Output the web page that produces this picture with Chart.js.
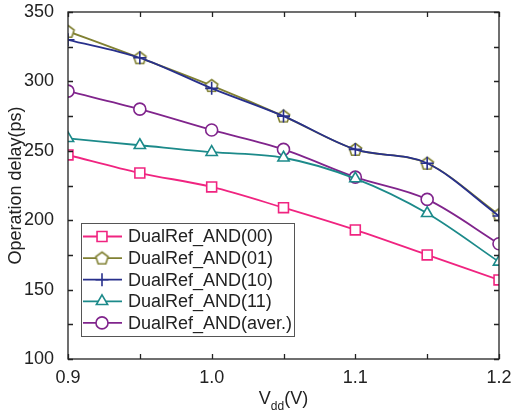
<!DOCTYPE html>
<html>
<head>
<meta charset="utf-8">
<script src="https://cdn.jsdelivr.net/npm/chart.js@4/dist/chart.umd.min.js"></script>
<style>
  html, body { margin: 0; padding: 0; background: #fff; }
  #wrap { width: 512px; height: 413px; position: relative; }
</style>
</head>
<body>
<div id="wrap"><canvas id="delayChart"></canvas></div>
<script>
// supply voltage (V)
const vdd = [0.9, 0.95, 1.0, 1.05, 1.1, 1.15, 1.2];

// operation delay (ps)
const and00  = [247, 234, 224, 209, 193, 175, 157];
const and01  = [336, 317, 297, 275, 251, 241, 204];
const and10  = [330, 317, 295, 275, 251, 241, 203];
const and11  = [259, 254, 249, 245, 230, 205, 170];
const andAvg = [293, 280, 265, 251, 231, 215, 183];

const seriesNames = ['DualRef_AND(00)', 'DualRef_AND(01)', 'DualRef_AND(10)', 'DualRef_AND(11)', 'DualRef_AND(aver.)'];

const COLORS = {
  pink:   'rgb(240,36,128)',
  olive:  'rgb(128,128,50)',
  blue:   'rgb(40,48,140)',
  teal:   'rgb(28,138,138)',
  purple: 'rgb(128,36,140)',
};

const FONT = "'Liberation Sans', Arial, sans-serif";

// pentagon marker (no built-in style for it)
function makePentagon(color, r) {
  const c = document.createElement('canvas');
  const s = Math.ceil(r * 2 + 4);
  c.width = s; c.height = s;
  const g = c.getContext('2d');
  g.strokeStyle = color;
  g.fillStyle = '#fff';
  g.lineWidth = 1.6;
  g.beginPath();
  for (let i = 0; i < 5; i++) {
    const a = -Math.PI / 2 + i * 2 * Math.PI / 5;
    const px = s / 2 + r * Math.cos(a), py = s / 2 + r * Math.sin(a) + 0.5;
    i ? g.lineTo(px, py) : g.moveTo(px, py);
  }
  g.closePath();
  g.fill();
  g.stroke();
  return c;
}
const pentagon = makePentagon(COLORS.olive, 6.5);

function toPoints(ys) {
  return vdd.map((x, i) => ({ x, y: ys[i] }));
}

function series(label, ys, color, style, radius) {
  return {
    label,
    data: toPoints(ys),
    borderColor: color,
    backgroundColor: '#fff',
    borderWidth: 1.8,
    pointStyle: style,
    pointRadius: radius,
    pointBorderWidth: 1.6,
    pointBorderColor: color,
    pointBackgroundColor: '#fff',
    cubicInterpolationMode: 'monotone',
    clip: 0,
  };
}

const datasets = [
  series(seriesNames[0], and00, COLORS.pink, 'rect', 7),
  series(seriesNames[1], and01, COLORS.olive, pentagon, 6),
  series(seriesNames[2], and10, COLORS.blue, 'cross', 6.5),
  series(seriesNames[3], and11, COLORS.teal, 'triangle', 6.5),
  series(seriesNames[4], andAvg, COLORS.purple, 'circle', 6),
];
// blue drawn over olive
datasets[1].order = 2;
datasets[2].order = 1;

const frameAndLegend = {
  id: 'frameAndLegend',
  afterDatasetsDraw(chart) {
    const { ctx, chartArea: a, scales: { x, y } } = chart;
    ctx.save();
    ctx.strokeStyle = '#222';
    ctx.lineWidth = 1.3;

    // inward ticks on all four sides
    ctx.beginPath();
    for (let v = 0.9; v <= 1.2001; v += 0.05) {
      const px = Math.round(x.getPixelForValue(v)) + 0.5;
      ctx.moveTo(px, a.bottom); ctx.lineTo(px, a.bottom - 5);
      ctx.moveTo(px, a.top); ctx.lineTo(px, a.top + 5);
    }
    for (let v = 100; v <= 350; v += 25) {
      const py = Math.round(y.getPixelForValue(v)) + 0.5;
      ctx.moveTo(a.left, py); ctx.lineTo(a.left + 5, py);
      ctx.moveTo(a.right, py); ctx.lineTo(a.right - 5, py);
    }
    ctx.stroke();
    ctx.strokeRect(a.left, a.top, a.right - a.left, a.bottom - a.top);

    // legend box
    const bx = 81, by = 223, bw = 213, bh = 113;
    ctx.fillStyle = '#fff';
    ctx.fillRect(bx, by, bw, bh);
    ctx.strokeStyle = '#555';
    ctx.lineWidth = 1;
    ctx.strokeRect(bx + 0.5, by + 0.5, bw, bh);

    chart.data.datasets.forEach((ds, i) => {
      const ly = 236.5 + i * 21.6;
      ctx.strokeStyle = ds.borderColor;
      ctx.lineWidth = 1.8;
      ctx.beginPath();
      ctx.moveTo(83, ly); ctx.lineTo(122, ly);
      ctx.stroke();
      ctx.lineWidth = ds.pointBorderWidth;
      ctx.fillStyle = '#fff';
      Chart.helpers.drawPoint(ctx, { pointStyle: ds.pointStyle, radius: ds.pointRadius, borderWidth: ds.pointBorderWidth }, 102, ly);
      ctx.fillStyle = '#222';
      ctx.font = '18px ' + FONT;
      ctx.textAlign = 'left';
      ctx.textBaseline = 'middle';
      ctx.fillText(ds.label, 128, ly + 1);
    });

    // axis titles
    ctx.fillStyle = '#222';
    ctx.textBaseline = 'alphabetic';
    ctx.font = '18px ' + FONT;
    const vw = ctx.measureText('V').width;
    ctx.font = '12px ' + FONT;
    const dw = ctx.measureText('dd').width;
    ctx.font = '18px ' + FONT;
    const pw = ctx.measureText('(V)').width;
    let tx = (a.left + a.right) / 2 - (vw + dw + pw) / 2;
    ctx.textAlign = 'left';
    ctx.fillText('V', tx, 404);
    ctx.font = '12px ' + FONT;
    ctx.fillText('dd', tx + vw, 410);
    ctx.font = '18px ' + FONT;
    ctx.fillText('(V)', tx + vw + dw, 404);

    ctx.translate(16, (a.top + a.bottom) / 2);
    ctx.rotate(-Math.PI / 2);
    ctx.textAlign = 'center';
    ctx.textBaseline = 'middle';
    ctx.fillText('Operation delay(ps)', 0, 0);
    ctx.restore();
  }
};

new Chart(document.getElementById('delayChart').getContext('2d'), {
  type: 'line',
  data: { datasets },
  options: {
    responsive: true,
    maintainAspectRatio: false,
    animation: false,
    layout: { padding: { top: 12, right: 13, left: 0, bottom: 0 } },
    plugins: {
      legend: { display: false },
      tooltip: { enabled: false },
    },
    scales: {
      x: {
        type: 'linear',
        min: 0.9, max: 1.2,
        grid: { display: false },
        border: { display: false },
        ticks: {
          stepSize: 0.1,
          padding: 0,
          color: '#222',
          font: { family: FONT, size: 18 },
          callback: v => v.toFixed(1),
          maxRotation: 0,
        },
        afterFit: s => { s.height = 54; s.paddingLeft = 0; s.paddingRight = 0; },
      },
      y: {
        min: 100, max: 350,
        grid: { display: false },
        border: { display: false },
        ticks: {
          stepSize: 50,
          padding: 6,
          color: '#222',
          font: { family: FONT, size: 18 },
        },
        afterFit: s => { s.width = 68; s.paddingTop = 0; s.paddingBottom = 0; },
      }
    }
  },
  plugins: [frameAndLegend]
});
</script>
</body>
</html>
